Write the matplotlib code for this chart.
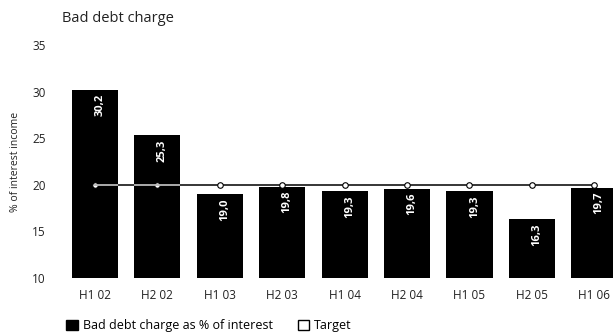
import matplotlib
matplotlib.use("Agg")
import matplotlib.pyplot as plt
from matplotlib.patches import Patch

plt.rcParams["font.family"] = ["Open Sans", "DejaVu Sans"]

periods = ["H1 02", "H2 02", "H1 03", "H2 03", "H1 04", "H2 04", "H1 05", "H2 05", "H1 06"]
bad_debt = [30.2, 25.3, 19.0, 19.8, 19.3, 19.6, 19.3, 16.3, 19.7]
target = [20, 20, 20, 20, 20, 20, 20, 20, 20]
value_labels = ["30,2", "25,3", "19,0", "19,8", "19,3", "19,6", "19,3", "16,3", "19,7"]

fig = plt.figure(figsize=(6.13, 3.35), dpi=100)
ax = fig.add_axes([0.106, 0.170, 0.894, 0.696])

x = list(range(len(periods)))
base = 10
bars = ax.bar(x, [v - base for v in bad_debt], bottom=base, width=0.74,
              color="black", zorder=2)

for xi, v, lab in zip(x, bad_debt, value_labels):
    ax.text(xi + 0.08, v - 0.45, lab, rotation=90, ha="center", va="top",
            color="white", fontsize=8, fontweight="bold", zorder=5)

# target line, drawn pale where it crosses the taller bars
ax.plot(x, target, color="black", lw=1.1, marker="o", ms=4,
        mfc="white", mec="black", mew=0.8, zorder=3)
for b, v in zip(bars, bad_debt):
    if v > 20:
        ln, = ax.plot(x, target, color="#b8b8b8", lw=1.3, zorder=4)
        ln.set_clip_path(b)

ax.set_xlim(-0.48, 8.30)
ax.set_ylim(10, 35)
ax.set_yticks([10, 15, 20, 25, 30, 35])
ax.set_xticks(x)
ax.set_xticklabels(periods)
ax.tick_params(length=0, labelsize=8.5, colors="#222222")
ax.tick_params(axis="y", pad=14)
ax.tick_params(axis="x", pad=8)
for s in ax.spines.values():
    s.set_visible(False)

ax.set_ylabel("% of interest income", fontsize=7.5, color="#222222", labelpad=8)
fig.text(0.101, 0.935, "Bad debt charge", fontsize=10.5, color="#222222")

handles = [Patch(facecolor="black", edgecolor="black"),
           Patch(facecolor="white", edgecolor="black")]
fig.legend(handles, ["Bad debt charge as % of interest", "Target"],
           loc="lower left", bbox_to_anchor=(0.09, -0.025), ncol=2, frameon=False,
           fontsize=9, handlelength=0.9, handleheight=0.9, handletextpad=0.4,
           columnspacing=2.0)

fig.savefig("out.png", dpi=100)
